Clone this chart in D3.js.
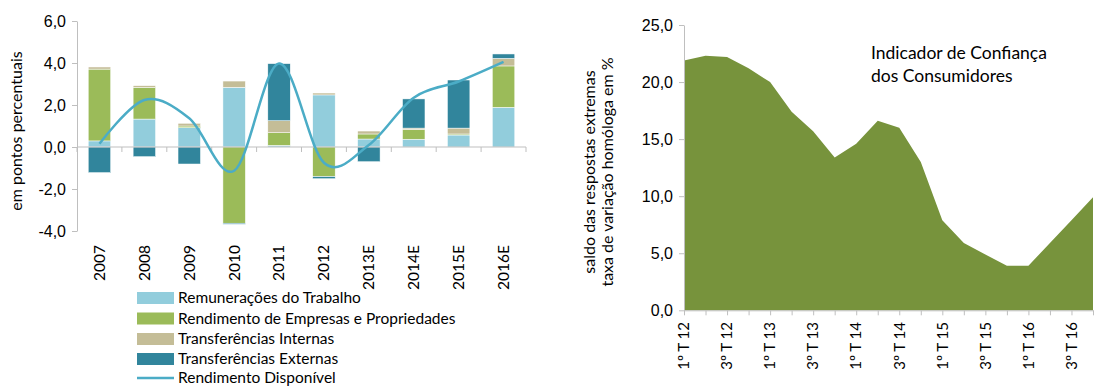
<!DOCTYPE html>
<html>
<head>
<meta charset="utf-8">
<script src="https://cdn.jsdelivr.net/npm/d3@7"></script>
<style>
  body { margin: 0; background: #fff; }
  svg { display: block; font-family: Lato, "Open Sans", sans-serif; }
  .axis path, .axis line { stroke: #bfbfbf; }
  .axis text { fill: #000; }
</style>
</head>
<body>
<svg id="chart" width="1101" height="388"></svg>
<script>
// left chart data (contributions, p.p.)
var years = ['2007', '2008', '2009', '2010', '2011', '2012', '2013E', '2014E', '2015E', '2016E'];
var remuneracoes = [0.29, 1.33, 0.92, 2.84, 0.08, 2.48, 0.38, 0.37, 0.57, 1.89];
var empresas = [3.42, 1.51, 0.08, -3.63, 0.60, -1.41, 0.24, 0.46, 0.05, 1.97];
var internas = [0.10, 0.08, 0.13, 0.30, 0.57, 0.09, 0.14, 0.07, 0.28, 0.36];
var externas = [-1.22, -0.46, -0.81, -0.05, 2.72, -0.10, -0.70, 1.39, 2.29, 0.21];
var rendimento = [0.15, 2.24, 1.37, -1.13, 3.98, -0.75, 0.10, 2.35, 3.12, 4.05];
var leftTicks = [-4, -2, 0, 2, 4, 6];

var seriesNames = ['Remunerações do Trabalho', 'Rendimento de Empresas e Propriedades',
  'Transferências Internas', 'Transferências Externas'];
var seriesKeys = ['rem', 'emp', 'int', 'ext'];
var seriesColors = ['#92cddc', '#9bbb59', '#c4bd97', '#31859c'];
var lineName = 'Rendimento Disponível';
var lineColor = '#4bacc6';

// right chart data
var quarters = ['1º T 12', '2º T 12', '3º T 12', '4º T 12', '1º T 13', '2º T 13', '3º T 13', '4º T 13',
  '1º T 14', '2º T 14', '3º T 14', '4º T 14', '1º T 15', '2º T 15', '3º T 15', '4º T 15',
  '1º T 16', '2º T 16', '3º T 16', '4º T 16'];
var confianca = [21.9, 22.3, 22.2, 21.2, 20.0, 17.4, 15.7, 13.4, 14.6, 16.6,
  16.0, 13.0, 7.9, 5.9, 4.9, 3.9, 3.9, 5.9, 7.9, 9.9];
var rightTicks = [0, 5, 10, 15, 20, 25];

var fmt = d => d.toFixed(1).replace('.', ',');
var svg = d3.select('#chart');

// ---------- left chart ----------
var x = d3.scaleBand().domain(years).range([77, 526]).paddingInner(0.5).paddingOuter(0.25);
var y = d3.scaleLinear().domain([-4, 6]).range([231, 21]);

var rows = years.map((yr, i) => ({
  year: yr, rem: remuneracoes[i], emp: empresas[i], int: internas[i], ext: externas[i]
}));
var stacked = d3.stack().keys(seriesKeys).offset(d3.stackOffsetDiverging)(rows);

svg.append('g')
  .attr('class', 'axis')
  .attr('transform', 'translate(77,0)')
  .call(d3.axisLeft(y).tickValues(leftTicks).tickFormat(fmt).tickSize(5).tickSizeOuter(0))
  .call(g => g.selectAll('text').attr('font-size', 16).attr('dx', -3));

svg.append('g')
  .selectAll('g')
  .data(stacked)
  .enter().append('g')
  .attr('fill', (d, i) => seriesColors[i])
  .selectAll('rect')
  .data(d => d)
  .enter().append('rect')
  .attr('x', d => x(d.data.year))
  .attr('width', x.bandwidth())
  .attr('y', d => y(Math.max(d[0], d[1])))
  .attr('height', d => Math.abs(y(d[0]) - y(d[1])))
  .attr('stroke', '#fff')
  .attr('stroke-width', 0.5);

// category axis at zero
var xAxis = svg.append('g').attr('class', 'axis');
xAxis.append('line')
  .attr('x1', 77).attr('x2', 526)
  .attr('y1', y(0)).attr('y2', y(0));
xAxis.selectAll('line.tick')
  .data(d3.range(years.length + 1))
  .enter().append('line')
  .attr('class', 'tick')
  .attr('x1', i => 77 + i * x.step())
  .attr('x2', i => 77 + i * x.step())
  .attr('y1', y(0)).attr('y2', y(0) + 5);

svg.append('g')
  .selectAll('text')
  .data(years)
  .enter().append('text')
  .attr('transform', d => `translate(${x(d) + x.bandwidth() / 2},245) rotate(-90)`)
  .attr('text-anchor', 'end')
  .attr('dy', '0.35em')
  .attr('font-size', 15.5)
  .text(d => d);

var line = d3.line()
  .x((d, i) => x(years[i]) + x.bandwidth() / 2)
  .y(d => y(d))
  .curve(d3.curveCatmullRom.alpha(0));

svg.append('path')
  .datum(rendimento)
  .attr('d', line)
  .attr('fill', 'none')
  .attr('stroke', lineColor)
  .attr('stroke-width', 2.5);

svg.append('text')
  .attr('transform', 'translate(16,131) rotate(-90)')
  .attr('text-anchor', 'middle')
  .attr('dy', '0.35em')
  .attr('font-size', 16)
  .text('em pontos percentuais');

// legend
var legend = svg.append('g').attr('font-size', 15.5);
var legendY = [298, 318.5, 339, 359, 378];
seriesNames.forEach((name, i) => {
  legend.append('rect')
    .attr('x', 137).attr('y', legendY[i] - 6)
    .attr('width', 37).attr('height', 12)
    .attr('fill', seriesColors[i]);
  legend.append('text')
    .attr('x', 178).attr('y', legendY[i])
    .attr('dy', '0.33em')
    .text(name);
});
legend.append('line')
  .attr('x1', 137).attr('x2', 174)
  .attr('y1', legendY[4]).attr('y2', legendY[4])
  .attr('stroke', lineColor).attr('stroke-width', 2.5);
legend.append('text')
  .attr('x', 178).attr('y', legendY[4])
  .attr('dy', '0.3em')
  .text(lineName);

// ---------- right chart ----------
var x2 = d3.scalePoint().domain(quarters).range([684, 1093]);
var y2 = d3.scaleLinear().domain([0, 25]).range([310.3, 25]);

var area = d3.area()
  .x((d, i) => x2(quarters[i]))
  .y0(y2(0))
  .y1(d => y2(d));

svg.append('path')
  .datum(confianca)
  .attr('d', area)
  .attr('fill', '#77933c');

svg.append('g')
  .attr('class', 'axis')
  .attr('transform', 'translate(684,0)')
  .call(d3.axisLeft(y2).tickValues(rightTicks).tickFormat(fmt).tickSize(5).tickSizeOuter(0))
  .call(g => g.selectAll('text').attr('font-size', 16).attr('dx', -3));

svg.append('g')
  .attr('class', 'axis')
  .attr('transform', `translate(0,${y2(0)})`)
  .call(d3.axisBottom(x2).tickSize(5).tickSizeOuter(0).tickFormat(''));

svg.append('g')
  .selectAll('text')
  .data(quarters.filter((q, i) => i % 2 === 0))
  .enter().append('text')
  .attr('transform', d => `translate(${x2(d)},322) rotate(-90)`)
  .attr('text-anchor', 'end')
  .attr('dy', '0.35em')
  .attr('font-size', 15)
  .text(d => d);

var ytitle = svg.append('text')
  .attr('transform', 'translate(599,172) rotate(-90)')
  .attr('text-anchor', 'middle')
  .attr('font-size', 16);
ytitle.append('tspan').attr('x', 0).attr('dy', '-0.25em').text('saldo das respostas extremas');
ytitle.append('tspan').attr('x', 0).attr('dy', '1.15em').text('taxa de variação homóloga em %');

var title = svg.append('text')
  .attr('font-size', 17.5);
title.append('tspan').attr('x', 871).attr('y', 59).text('Indicador de Confiança');
title.append('tspan').attr('x', 871).attr('y', 82).text('dos Consumidores');
</script>
</body>
</html>
